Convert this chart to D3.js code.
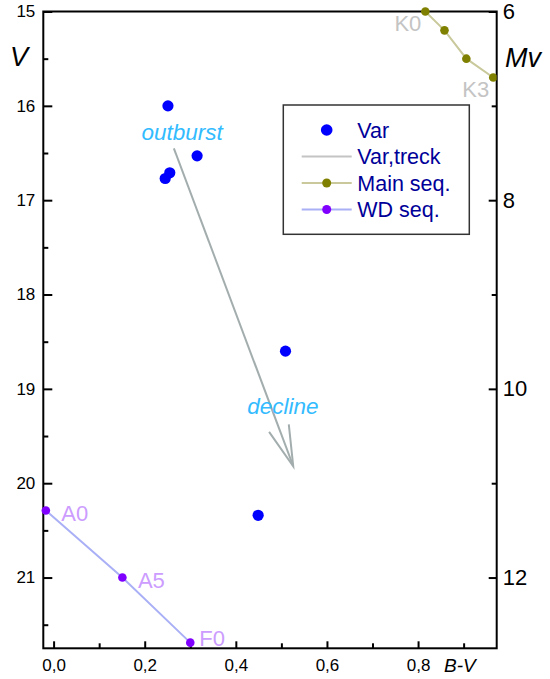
<!DOCTYPE html>
<html>
<head>
<meta charset="utf-8">
<script src="https://cdn.jsdelivr.net/npm/d3@7"></script>
<style>
  body { margin: 0; background: #fff; }
  svg { display: block; font-family: "Liberation Sans", Arial, sans-serif; }
</style>
</head>
<body>
<svg id="chart" width="550" height="679"></svg>
<script>
// observed points (V vs B-V)
const varBV = [0.251, 0.315, 0.255, 0.245, 0.509, 0.449];
const varV = [16.0, 16.53, 16.71, 16.77, 18.6, 20.34];

// track of the variable: outburst -> decline
const trackBV = [0.264, 0.526];
const trackV = [16.45, 19.82];

// main sequence (Mv vs B-V)
const mainBV = [0.816, 0.858, 0.906, 0.965];
const mainMv = [6.0, 6.2, 6.5, 6.7];
const mainLabels = ["K0", "", "", "K3"];

// white dwarf sequence (Mv vs B-V)
const wdBV = [-0.017, 0.151, 0.300];
const wdMv = [11.29, 12.0, 12.69];
const wdLabels = ["A0", "A5", "F0"];

// axis ticks
const bvTicks = [0, 0.2, 0.4, 0.6, 0.8];
const bvMinor = [0.1, 0.3, 0.5, 0.7, 0.9];
const vTicks = [15, 16, 17, 18, 19, 20, 21];
const vMinor = [15.5, 16.5, 17.5, 18.5, 19.5, 20.5, 21.5];
const mvTicks = [6, 8, 10, 12];
const mvMinor = [7, 9, 11];

const legendItems = ["Var", "Var,treck", "Main seq.", "WD seq."];
const legendLine = [null, "#c4c4c4", "#c9c99c", "#aab0f5"];
const legendDot = ["#0000ff", null, "#808000", "#8000ff"];

const svg = d3.select("#chart");
const pLeft = 43.3, pRight = 496.7, pTop = 11.5, pBottom = 648.3;

const x = d3.scaleLinear().domain([-0.0226, 0.9726]).range([pLeft, pRight]);
const y = d3.scaleLinear().domain([15, 21.75]).range([pTop, pBottom]);
const yMv = d3.scaleLinear().domain([6, 12.75]).range([pTop, pBottom]);

const comma = d => d3.format(".1f")(d).replace(".", ",");
const whole = d3.format("d");

// clip for data marks
svg.append("defs").append("clipPath").attr("id", "plot")
  .append("rect").attr("x", pLeft).attr("y", pTop - 6)
  .attr("width", pRight - pLeft).attr("height", pBottom - pTop + 6);

// axes
function styleAxis(g) {
  g.select(".domain").remove();
  g.selectAll("line").attr("stroke", "#000").attr("stroke-width", 2);
  g.selectAll("text").attr("fill", "#000");
}

svg.append("g").attr("transform", `translate(0,${pBottom})`)
  .call(d3.axisBottom(x).tickValues(bvTicks).tickSize(-7).tickPadding(11).tickFormat(comma))
  .call(styleAxis).selectAll("text").style("font-size", "17px");
svg.append("g").attr("transform", `translate(0,${pBottom})`)
  .call(d3.axisBottom(x).tickValues(bvMinor).tickSize(-5).tickFormat(""))
  .call(styleAxis);

svg.append("g").attr("transform", `translate(${pLeft},0)`)
  .call(d3.axisLeft(y).tickValues(vTicks).tickSize(-9).tickPadding(8).tickFormat(whole))
  .call(styleAxis).selectAll("text").style("font-size", "17px");
svg.append("g").attr("transform", `translate(${pLeft},0)`)
  .call(d3.axisLeft(y).tickValues(vMinor).tickSize(-5).tickFormat(""))
  .call(styleAxis);

svg.append("g").attr("transform", `translate(${pRight},0)`)
  .call(d3.axisRight(yMv).tickValues(mvTicks).tickSize(-8).tickPadding(6).tickFormat(whole))
  .call(styleAxis).selectAll("text").style("font-size", "22px");
svg.append("g").attr("transform", `translate(${pRight},0)`)
  .call(d3.axisRight(yMv).tickValues(mvMinor).tickSize(-5).tickFormat(""))
  .call(styleAxis);

// frame
svg.append("rect")
  .attr("x", pLeft).attr("y", pTop)
  .attr("width", pRight - pLeft).attr("height", pBottom - pTop)
  .attr("fill", "none").attr("stroke", "#000").attr("stroke-width", 2);

// axis titles
svg.append("text").attr("x", 10).attr("y", 66)
  .style("font-size", "27px").style("font-style", "italic").text("V");
svg.append("text").attr("x", 505).attr("y", 67)
  .style("font-size", "27px").style("font-style", "italic").text("Mv");
svg.append("text").attr("x", 444).attr("y", 672)
  .style("font-size", "19px").style("font-style", "italic").text("B-V");

const plot = svg.append("g").attr("clip-path", "url(#plot)");

// main sequence
const mainData = mainBV.map((d, i) => ({ bv: d, mv: mainMv[i], label: mainLabels[i] }));
plot.append("path").datum(mainData)
  .attr("fill", "none").attr("stroke", "#c9c99c").attr("stroke-width", 2)
  .attr("d", d3.line().x(d => x(d.bv)).y(d => yMv(d.mv)));
plot.selectAll(".ms").data(mainData).join("circle")
  .attr("cx", d => x(d.bv)).attr("cy", d => yMv(d.mv)).attr("r", 4.3)
  .attr("fill", "#808000");
svg.selectAll(".mslab").data(mainData.filter(d => d.label)).join("text")
  .attr("x", d => x(d.bv) - 4).attr("y", d => yMv(d.mv) + 19)
  .attr("text-anchor", "end").attr("fill", "#c4c4c4").style("font-size", "22px")
  .text(d => d.label);

// WD sequence
const wdData = wdBV.map((d, i) => ({ bv: d, mv: wdMv[i], label: wdLabels[i] }));
plot.append("path").datum(wdData)
  .attr("fill", "none").attr("stroke", "#aab0f5").attr("stroke-width", 2)
  .attr("d", d3.line().x(d => x(d.bv)).y(d => yMv(d.mv)));
svg.selectAll(".wd").data(wdData).join("circle")
  .attr("cx", d => x(d.bv)).attr("cy", d => yMv(d.mv)).attr("r", 4.3)
  .attr("fill", "#8000ff");
svg.selectAll(".wdlab").data(wdData).join("text")
  .attr("x", (d, i) => x(d.bv) + (i === wdData.length - 1 ? 9 : 15.5))
  .attr("y", d => Math.min(yMv(d.mv) + 10, pBottom - 2))
  .attr("fill", "#cc9cff").style("font-size", "22px")
  .text(d => d.label);

// track arrow
const x0 = x(trackBV[0]), y0 = y(trackV[0]);
const x1 = x(trackBV[1]), y1 = y(trackV[1]);
const ang = Math.atan2(y0 - y1, x0 - x1);
const wing = 42, spread = 14.5 * Math.PI / 180;
const arrow = svg.append("g").attr("stroke", "#a3adad").attr("stroke-width", 2).attr("fill", "none");
arrow.append("line").attr("x1", x0).attr("y1", y0).attr("x2", x1).attr("y2", y1);
arrow.append("path").attr("d",
  `M${x1 + wing * Math.cos(ang + spread)},${y1 + wing * Math.sin(ang + spread)}` +
  `L${x1},${y1}` +
  `L${x1 + wing * Math.cos(ang - spread)},${y1 + wing * Math.sin(ang - spread)}`);

// annotations
const notes = [
  { text: "outburst", bv: 0.193, v: 16.36 },
  { text: "decline", bv: 0.425, v: 19.27 }
];
svg.selectAll(".note").data(notes).join("text")
  .attr("x", d => x(d.bv)).attr("y", d => y(d.v))
  .attr("fill", "#33bbff").style("font-size", "22.5px").style("font-style", "italic")
  .text(d => d.text);

// variable points
svg.selectAll(".var").data(varBV.map((d, i) => ({ bv: d, v: varV[i] }))).join("circle")
  .attr("cx", d => x(d.bv)).attr("cy", d => y(d.v)).attr("r", 5.6)
  .attr("fill", "#0000ff");

// legend
const lg = svg.append("g");
lg.append("rect").attr("x", 283.3).attr("y", 105).attr("width", 186).attr("height", 129.3)
  .attr("fill", "#fff").attr("stroke", "#333").attr("stroke-width", 1.5);
const rows = lg.selectAll("g").data(legendItems).join("g")
  .attr("transform", (d, i) => `translate(0,${130 + i * 26.5})`);
rows.each(function (d, i) {
  const row = d3.select(this);
  if (legendLine[i]) {
    row.append("line").attr("x1", 301.7).attr("x2", 351.7)
      .attr("stroke", legendLine[i]).attr("stroke-width", 2);
  }
  if (legendDot[i]) {
    row.append("circle").attr("cx", 326.7).attr("r", i === 0 ? 5.8 : 4.5)
      .attr("fill", legendDot[i]);
  }
});
rows.append("text").attr("x", 357.3).attr("dy", "0.35em")
  .attr("fill", "#000099").style("font-size", "21.5px").text(d => d);
</script>
</body>
</html>
